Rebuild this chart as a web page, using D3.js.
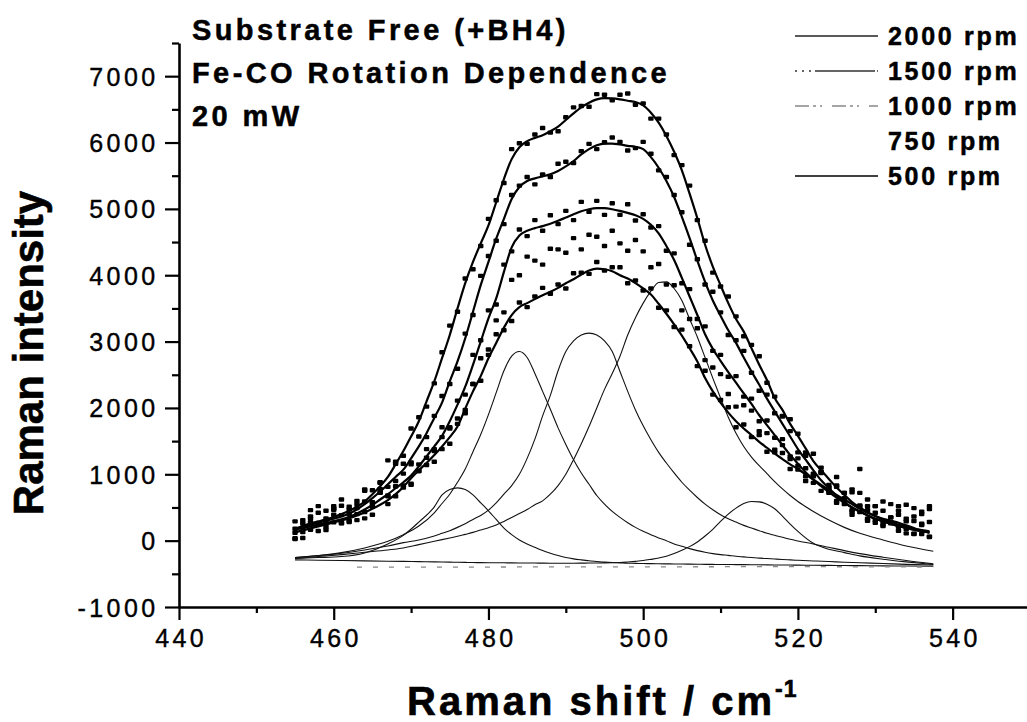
<!DOCTYPE html>
<html>
<head>
<meta charset="utf-8">
<script src="https://cdn.jsdelivr.net/npm/d3@7"></script>
<style>
  body { margin: 0; background: #fff; }
  text { font-family: "Liberation Sans", Arial, Helvetica, sans-serif; fill: #000; }
</style>
</head>
<body>
<div id="chart"></div>
<script>
// Raman shift grid of the measured spectra (cm-1)
var shifts = [455, 456, 457, 458, 459, 460, 461, 462, 463, 464, 465, 466, 467, 468, 469, 470,
  471, 472, 473, 474, 475, 476, 477, 478, 479, 480, 481, 482, 483, 484, 485, 486, 487, 488,
  489, 490, 491, 492, 493, 494, 495, 496, 497, 498, 499, 500, 501, 502, 503, 504, 505, 506,
  507, 508, 509, 510, 511, 512, 513, 514, 515, 516, 517, 518, 519, 520, 521, 522, 523, 524,
  525, 526, 527, 528, 529, 530, 531, 532, 533, 534, 535, 536, 537];

// measured points, one array per rotation speed
var pts2000 = [120, 310, 460, 250, 450, 275, 620, 470, 400, 750, 760, 730, 1210, 1190, 1280, 1690,
  1860, 2020, 2370, 2840, 3240, 3450, 3950, 4090, 4440, 4850, 5130, 5390, 5900, 5990, 5980, 6120,
  6220, 6150, 6170, 6380, 6530, 6550, 6540, 6730, 6720, 6635, 6720, 6740, 6570, 6590, 6360, 6360,
  6120, 5810, 5660, 5350, 4830, 4520, 4040, 3830, 3680, 3380, 3080, 2950, 2780, 2380, 2170, 1870,
  1830, 1610, 1330, 1310, 1100, 840, 960, 720, 460, 720, 520, 310, 590, 260, 390, 540, 100, 400, 520];
var pts1500 = [290, 130, 275, 520, 210, 390, 525, 300, 490, 770, 560, 870, 810, 1160, 1160, 1180,
  1570, 1560, 1880, 2180, 2360, 2590, 3120, 3400, 3990, 4290, 4520, 4770, 5210, 5350, 5480, 5370,
  5520, 5480, 5680, 5710, 5690, 5870, 5980, 5900, 6005, 6075, 6010, 5880, 5915, 6010, 5830, 5580,
  5480, 5210, 4950, 4460, 4240, 3860, 3750, 3440, 3100, 3020, 2860, 2530, 2260, 2200, 1920, 1880,
  1650, 1330, 1280, 970, 1030, 750, 830, 600, 390, 530, 620, 270, 450, 280, 520, 110, 365, 255, 475];
var pts1000 = [35, 260, 165, 420, 275, 520, 260, 510, 310, 590, 580, 880, 670, 900, 800, 1150,
  1050, 1380, 1380, 1710, 1710, 2110, 2200, 2800, 3020, 3470, 3560, 4160, 4360, 4690, 4590, 4830,
  4670, 4905, 4770, 4970, 4830, 5105, 4955, 5120, 4910, 5085, 4910, 5070, 4825, 4920, 4720, 4740,
  4370, 4330, 3880, 3790, 3340, 3230, 2860, 2800, 2470, 2480, 2170, 2140, 1800, 1810, 1550, 1530,
  1230, 1240, 970, 1010, 750, 790, 570, 640, 440, 1080, 300, 420, 220, 350, 150, 290, 105, 235, 55];
var pts750 = [180, 40, 330, 250, 160, 465, 385, 280, 600, 430, 390, 720, 680, 670, 1010, 840,
  1050, 1250, 1190, 1380, 1690, 1840, 1920, 2360, 2750, 2880, 3320, 3440, 3930, 4000, 4280, 4220,
  4160, 4400, 4390, 4340, 4560, 4390, 4610, 4580, 4440, 4670, 4480, 4370, 4530, 4360, 4120, 4170,
  3860, 3850, 3470, 3340, 3200, 2720, 2610, 2510, 2210, 2020, 2040, 1960, 1650, 1620, 1370, 1440,
  1270, 1070, 1090, 870, 1020, 800, 600, 720, 770, 430, 460, 520, 240, 350, 450, 175, 295, 435, 60];
var pts500 = [25, 195, 365, 145, 335, 485, 265, 400, 550, 335, 510, 780, 550, 820, 830, 860,
  1150, 1140, 1350, 1560, 1460, 1760, 1970, 2360, 2410, 2800, 3110, 3170, 3310, 3590, 3520, 3680,
  3810, 3720, 3860, 3800, 4030, 4040, 4020, 4200, 4070, 4120, 4120, 3880, 3920, 3770, 3800, 3510,
  3470, 3220, 3180, 2930, 2630, 2560, 2200, 2120, 2010, 1710, 1750, 1560, 1590, 1340, 1330, 1320,
  1080, 1130, 900, 980, 1040, 720, 810, 550, 730, 510, 330, 520, 290, 550, 210, 330, 490, 100, 280];

// fitted envelopes (same grid)
var fit2000 = [180, 220, 260, 290, 320, 355, 400, 450, 510, 590, 700, 820, 960, 1150, 1350, 1570,
  1800, 2100, 2400, 2750, 3100, 3500, 3880, 4200, 4480, 4750, 5100, 5450, 5750, 5930, 6020, 6070,
  6110, 6170, 6240, 6340, 6440, 6530, 6600, 6650, 6670, 6665, 6650, 6630, 6610, 6560, 6450, 6300,
  6100, 5860, 5580, 5230, 4860, 4460, 4130, 3850, 3580, 3340, 3150, 2900, 2650, 2420, 2150, 1970,
  1760, 1580, 1390, 1200, 1060, 930, 800, 690, 580, 500, 430, 370, 320, 280, 240, 210, 180, 160, 140];
var fit1500 = [170, 200, 235, 270, 300, 330, 365, 410, 470, 550, 640, 740, 850, 960, 1070, 1240,
  1420, 1620, 1850, 2080, 2400, 2700, 3050, 3450, 3850, 4200, 4550, 4850, 5150, 5330, 5420, 5460,
  5490, 5520, 5570, 5640, 5720, 5820, 5900, 5960, 5985, 5985, 5970, 5950, 5935, 5900, 5780, 5620,
  5420, 5180, 4880, 4560, 4220, 3900, 3620, 3390, 3170, 2980, 2760, 2550, 2350, 2140, 1950, 1760,
  1570, 1380, 1220, 1060, 910, 790, 680, 580, 500, 440, 380, 330, 290, 250, 220, 190, 165, 145, 125];
var fit1000 = [165, 190, 215, 240, 265, 290, 320, 360, 410, 470, 540, 620, 700, 790, 880, 980,
  1120, 1270, 1420, 1580, 1800, 2050, 2320, 2650, 3000, 3350, 3650, 4050, 4420, 4600, 4670, 4710,
  4740, 4775, 4820, 4870, 4920, 4965, 4995, 5010, 5010, 4995, 4970, 4940, 4905, 4850, 4760, 4630,
  4440, 4230, 3960, 3680, 3400, 3110, 2890, 2710, 2540, 2380, 2220, 2060, 1890, 1740, 1590, 1440,
  1290, 1160, 1030, 920, 820, 730, 650, 570, 500, 440, 380, 330, 290, 250, 220, 190, 165, 145, 125];
var fit500 = [125, 155, 185, 215, 245, 275, 305, 340, 380, 425, 480, 540, 610, 700, 810, 940,
  1060, 1170, 1290, 1420, 1560, 1720, 1990, 2250, 2480, 2750, 2980, 3210, 3400, 3520, 3580, 3640,
  3700, 3750, 3810, 3880, 3940, 4010, 4070, 4100, 4090, 4060, 4000, 3950, 3880, 3800, 3710, 3570,
  3420, 3260, 3090, 2900, 2700, 2450, 2250, 2080, 1930, 1800, 1690, 1590, 1490, 1400, 1310, 1230,
  1150, 1080, 1000, 920, 840, 760, 690, 620, 550, 480, 420, 370, 330, 300, 270, 230, 190, 150, 120];

// band components of the 500 rpm fit
var compShift = [455, 458, 461, 464, 467, 469, 471, 473, 474, 475, 476, 477, 478, 479, 480, 481,
  482, 483, 484, 485, 486, 487, 488, 489, 490, 491, 492, 493, 494, 495, 496, 497, 498, 499, 500,
  501, 502, 503, 504, 505, 506, 507, 508, 509, 510, 511, 512, 513, 514, 515, 516, 517, 518, 519,
  520, 522, 524, 526, 528, 531, 534, 537.5];
var band476 = [-265, -255, -240, -185, -50, 80, 280, 510, 690, 770, 795, 770, 690, 570, 450, 320,
  190, 90, 10, -50, -100, -150, -190, -225, -255, -275, -290, -303, -315, -323, -330, -335, -340,
  -342, -345, -346, -348, -350, -351, -352, -354, -355, -357, -358, -360, -360, -361, -362, -363,
  -364, -365, -366, -367, -368, -369, -371, -373, -375, -377, -380, -383, -386];
var band484 = [-255, -225, -180, -110, -10, 90, 220, 420, 560, 700, 880, 1080, 1340, 1600, 1900, 2230,
  2560, 2780, 2850, 2760, 2520, 2250, 1980, 1700, 1450, 1220, 1020, 850, 680, 550, 440, 350, 270,
  200, 140, 90, 40, 0, -50, -85, -120, -150, -175, -195, -210, -222, -235, -245, -255, -263, -270,
  -277, -284, -290, -296, -306, -315, -325, -333, -345, -357, -368];
var band493 = [-255, -225, -190, -140, -80, -30, 10, 70, 110, 150, 200, 255, 320, 380, 460, 570,
  700, 830, 1000, 1240, 1530, 1880, 2190, 2560, 2850, 3010, 3100, 3128, 3100, 3010, 2850, 2550,
  2250, 1970, 1730, 1520, 1330, 1170, 1020, 880, 760, 650, 550, 465, 390, 330, 280, 230, 190, 150,
  110, 80, 50, 20, -5, -50, -100, -150, -195, -250, -300, -350];
var band502 = [-270, -240, -210, -175, -140, -110, -60, -10, 15, 40, 65, 95, 125, 160, 195, 235,
  290, 350, 410, 470, 540, 600, 700, 830, 1000, 1220, 1460, 1720, 2000, 2280, 2520, 2780, 3100,
  3360, 3580, 3760, 3890, 3900, 3800, 3620, 3340, 3070, 2760, 2450, 2150, 1860, 1620, 1420, 1260,
  1130, 1010, 890, 780, 680, 590, 440, 310, 200, 110, 10, -80, -160];
var band514 = [-290, -295, -300, -305, -310, -313, -316, -320, -322, -324, -326, -328, -330, -331,
  -332, -333, -334, -335, -336, -337, -338, -339, -340, -340, -340, -340, -339, -338, -337, -335,
  -333, -330, -322, -312, -300, -282, -262, -235, -195, -145, -90, -20, 70, 170, 290, 400, 490,
  560, 590, 585, 550, 480, 370, 250, 140, -40, -130, -180, -230, -280, -320, -360];

// faint dashed baseline trace near the bottom
var baseShift = [463, 470, 480, 490, 500, 510, 520, 530, 537.5];
var baseVals = [-400, -400, -398, -395, -395, -393, -392, -395, -398];

// legend
var legendLabels = ["2000 rpm", "1500 rpm", "1000 rpm", "750 rpm", "500 rpm"];
var titleLines = ["Substrate Free (+BH4)", "Fe-CO Rotation Dependence", "20 mW"];

var width = 1027, height = 722;

var svg = d3.select("#chart")
  .append("svg")
    .attr("width", width)
    .attr("height", height);

var x = d3.scaleLinear().domain([440, 550]).range([179, 1030]);
var y = d3.scaleLinear().domain([-1000, 7500]).range([607, 43]);

// ---- axes ----
var xAxis = svg.append("g")
  .attr("transform", "translate(0,607)")
  .call(d3.axisBottom(x).tickValues(d3.range(440, 541, 20)).tickSize(13).tickSizeOuter(0)
    .tickFormat(function(d){ return String(d); }));
xAxis.select(".domain").attr("stroke-width", 2.6);
xAxis.selectAll(".tick line").attr("stroke-width", 2.2);
xAxis.selectAll(".tick text")
  .attr("y", 40).attr("dy", null).attr("dx", 1.7)
  .style("font-size", "25px").style("letter-spacing", "3.4px")
  .attr("fill", "#000").attr("stroke", "#000").attr("stroke-width", 0.4);

var xMinor = svg.append("g")
  .attr("transform", "translate(0,607)")
  .call(d3.axisBottom(x).tickValues(d3.range(450, 531, 20)).tickSize(6).tickSizeOuter(0).tickFormat(""));
xMinor.select(".domain").remove();
xMinor.selectAll(".tick line").attr("stroke-width", 2.2);

var yAxis = svg.append("g")
  .attr("transform", "translate(179,0)")
  .call(d3.axisLeft(y).tickValues(d3.range(-1000, 7001, 1000)).tickSize(14).tickSizeOuter(0)
    .tickFormat(function(d){ return String(d); }));
yAxis.select(".domain").attr("stroke-width", 2.6);
yAxis.selectAll(".tick line").attr("stroke-width", 2.2);
yAxis.selectAll(".tick text")
  .attr("x", -20.5).attr("dy", null).attr("y", 9)
  .style("font-size", "25px").style("letter-spacing", "3.4px")
  .attr("fill", "#000").attr("stroke", "#000").attr("stroke-width", 0.4);

var yMinor = svg.append("g")
  .attr("transform", "translate(179,0)")
  .call(d3.axisLeft(y).tickValues(d3.range(-500, 7501, 1000)).tickSize(7).tickSizeOuter(0).tickFormat(""));
yMinor.select(".domain").remove();
yMinor.selectAll(".tick line").attr("stroke-width", 2.2);

// axis titles
svg.append("text")
  .attr("transform", "translate(43,353) rotate(-90)")
  .attr("text-anchor", "middle")
  .style("font-size", "42px").style("font-weight", "bold")
  .attr("stroke", "#000").attr("stroke-width", 0.6)
  .text("Raman intensity");

var xt = svg.append("text")
  .attr("x", 407).attr("y", 715)
  .style("font-size", "40px").style("font-weight", "bold").style("letter-spacing", "3px")
  .attr("stroke", "#000").attr("stroke-width", 0.6);
xt.append("tspan").text("Raman shift / cm");
xt.append("tspan").attr("dy", -18).style("font-size", "23px").style("letter-spacing", "1px").text("-1");

// title block
svg.selectAll(".title")
  .data(titleLines)
  .enter().append("text")
    .attr("class", "title")
    .attr("x", 192)
    .attr("y", function(d, i){ return 40 + i * 43; })
    .style("font-size", "29px").style("font-weight", "bold").style("letter-spacing", "3.4px")
    .attr("stroke", "#000").attr("stroke-width", 0.5)
    .text(function(d){ return d; });

// ---- band components ----
var compLine = d3.line()
  .x(function(d){ return x(d[0]); })
  .y(function(d){ return y(d[1]); })
  .curve(d3.curveMonotoneX);

[band476, band484, band493, band502, band514].forEach(function(band){
  svg.append("path")
    .datum(compShift.map(function(s, i){ return [s, band[i]]; }))
    .attr("fill", "none")
    .attr("stroke", "#111")
    .attr("stroke-width", 1.1)
    .attr("d", compLine);
});

svg.append("path")
  .datum(baseShift.map(function(s, i){ return [s, baseVals[i]]; }))
  .attr("fill", "none")
  .attr("stroke", "#888")
  .attr("stroke-width", 1.3)
  .attr("stroke-dasharray", "5,11")
  .attr("d", compLine);

// ---- fitted envelopes ----
[fit2000, fit1500, fit1000, fit500].forEach(function(fit){
  svg.append("path")
    .datum(shifts.map(function(s, i){ return [s, fit[i]]; }))
    .attr("fill", "none")
    .attr("stroke", "#000")
    .attr("stroke-width", 2.2)
    .attr("d", compLine);
});

// ---- measured points ----
[pts2000, pts1500, pts1000, pts750, pts500].forEach(function(pts){
  svg.append("g")
    .selectAll("rect")
    .data(shifts.map(function(s, i){ return [s, pts[i]]; }))
    .enter().append("rect")
      .attr("x", function(d){ return x(d[0]) - 2.7; })
      .attr("y", function(d){ return y(d[1]) - 2.2; })
      .attr("width", 5.4)
      .attr("height", 4.4)
      .attr("rx", 1)
      .attr("fill", "#000");
});

// ---- legend ----
var legend = svg.append("g");
legend.selectAll("text")
  .data(legendLabels)
  .enter().append("text")
    .attr("x", 888)
    .attr("y", function(d, i){ return 45 + i * 35; })
    .style("font-size", "25px").style("font-weight", "bold").style("letter-spacing", "2.7px")
    .attr("stroke", "#000").attr("stroke-width", 0.5)
    .text(function(d){ return d; });

var legendStyles = [
  { stroke: "#222", width: 1.3, dash: null },
  { stroke: "#333", width: 1.3, dash: "2,5,2,5,2,4,60" },
  { stroke: "#888", width: 1.3, dash: "14,4,3,4,2,10" },
  { stroke: "none", width: 0, dash: null },
  { stroke: "#000", width: 1.6, dash: null }
];
legend.selectAll("line")
  .data(legendStyles)
  .enter().append("line")
    .attr("x1", 795).attr("x2", 878)
    .attr("y1", function(d, i){ return 36 + i * 35; })
    .attr("y2", function(d, i){ return 36 + i * 35; })
    .attr("stroke", function(d){ return d.stroke; })
    .attr("stroke-width", function(d){ return d.width; })
    .attr("stroke-dasharray", function(d){ return d.dash; });
</script>
</body>
</html>
